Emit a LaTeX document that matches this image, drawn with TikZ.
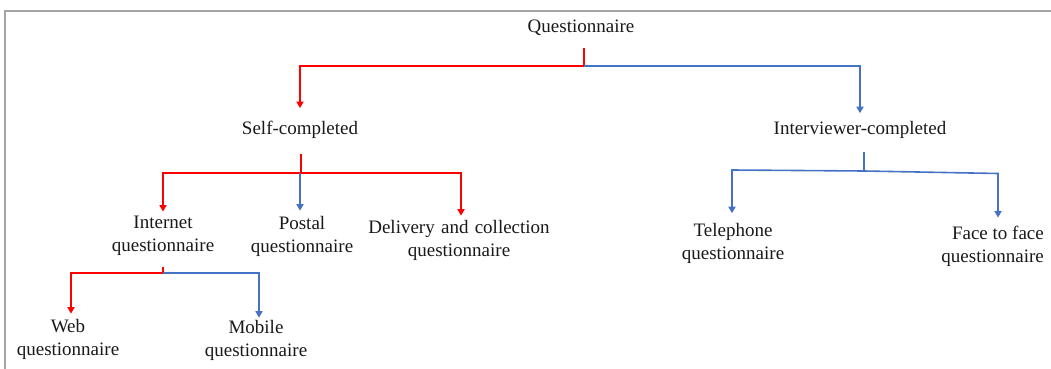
\documentclass[tikz,border=0pt]{standalone}
\usepackage{fontspec}
\setmainfont{Liberation Serif}
\usetikzlibrary{arrows.meta}
\definecolor{lred}{RGB}{255,0,0}
\definecolor{lblue}{RGB}{68,114,196}
\definecolor{txt}{RGB}{25,25,25}
\definecolor{frame}{RGB}{165,165,165}
\begin{document}
\begin{tikzpicture}[x=1pt,y=-1pt,
  lbl/.style={inner sep=0pt, align=center, text=txt,
    font=\fontsize{19}{23}\selectfont},
  conn/.style={line width=1.6pt, line join=miter},
  rline/.style={conn, lred},
  bline/.style={conn, lblue},
  tip/.style={-{Triangle[width=7pt,length=6.5pt]}}
]
\useasboundingbox (0,0) rectangle (1051,369);
% page frame (top and left edges only)
\draw[frame, line width=1.5pt] (5,369) -- (5,11) -- (1051,11);

% labels
\node[lbl] (q)  at (581,28)    {Questionnaire};
\node[lbl] (sc) at (300,130)   {Self-completed};
\node[lbl] (ic) at (860,130)   {Interviewer-completed};
\node[lbl] (iq) at (163,236)   {Internet\\questionnaire};
\node[lbl] (pq) at (302,236)   {Postal\\questionnaire};
\node[lbl] (dq) at (459,240)   {Delivery\hspace{0.33em}and\hspace{0.33em}collection\\questionnaire};
\node[lbl] (tq) at (733,243.5) {Telephone\\questionnaire};
\node[lbl, align=right, anchor=east] (fq) at (1044,246.5) {Face to face\\questionnaire};
\node[lbl] (wq) at (68,339)    {Web\\questionnaire};
\node[lbl] (mq) at (256,340)   {Mobile\\questionnaire};

% junction points under each parent
\coordinate (j0) at (584,66);
\coordinate (j1) at (301,173);
\coordinate (j2) at (163,273);
\coordinate (j3) at (864,171);

% Questionnaire -> Self / Interviewer
\draw[rline] (j0 |- q.south) ++(0,12) -- (j0);
\draw[rline, tip] (j0) -| ([yshift=13pt]sc.north);
\draw[bline, tip] (j0) -| ([yshift=8pt]ic.north);

% Self-completed -> Internet / Postal / Delivery
\draw[rline] (j1 |- sc.south) ++(0,15) -- (j1);
\draw[rline, tip] (j1) -| ([yshift=4.5pt]iq.north);
\draw[rline, tip] (j1) -| ([xshift=2pt,yshift=4pt]dq.north);
\draw[bline, tip] ([xshift=-1pt]j1) -- ([xshift=-1pt,yshift=5pt]j1 |- pq.north);

% Internet -> Web / Mobile
\draw[rline] (j2 |- iq.south) ++(0,11) -- (j2);
\draw[rline, tip] (j2) -| ([xshift=3pt,yshift=5pt]wq.north);
\draw[bline, tip] (j2) -| ([xshift=3pt,yshift=2pt]mq.north);

% Interviewer-completed -> Telephone / Face to face
\draw[bline] (j3 |- ic.south) ++(0,13) -- (j3);
\draw[bline, tip] (j3) -- (732,170) -- ([yshift=10pt]tq.north -| 732,0);
\coordinate (fr) at (998,173.5);
\draw[bline, tip] (j3) -- (fr) -- ([yshift=8.5pt]fq.north -| fr);
\end{tikzpicture}
\end{document}
